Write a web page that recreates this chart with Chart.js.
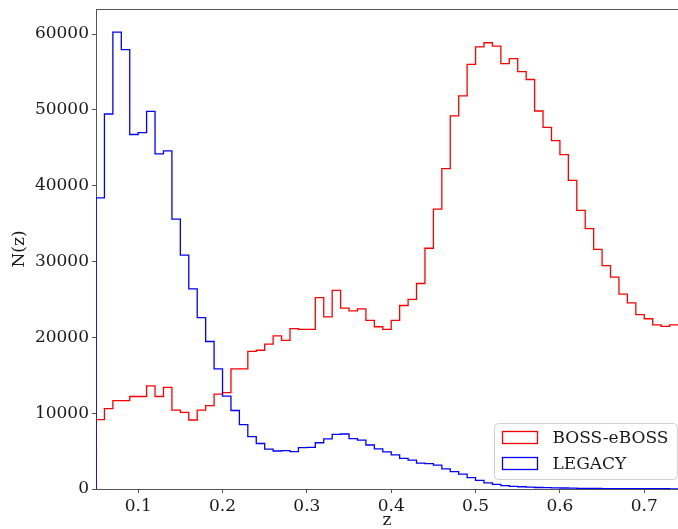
<!DOCTYPE html>
<html>
<head>
<meta charset="utf-8">
<title>N(z)</title>
<script src="https://cdn.jsdelivr.net/npm/chart.js@4/dist/chart.umd.min.js"></script>
<style>
  body { margin: 0; background: #fff; }
  canvas { display: block; }
</style>
</head>
<body>
<canvas id="nzChart" width="678" height="529"></canvas>
<script>
// histogram bins: 0.05 .. 0.74, width 0.01
const zStart = 0.05;
const binWidth = 0.01;

const bossEboss = [
  9150, 10600, 11650, 11650, 12200, 12200, 13600, 12200, 13400, 10400,
  10100, 9100, 10400, 11000, 12500, 12700, 15850, 15850, 18150, 18300,
  19100, 20200, 19600, 21150, 21050, 21050, 25250, 22700, 26200, 23850,
  23500, 23750, 22250, 21400, 21050, 22250, 24200, 25000, 27100, 31750,
  36900, 42250, 49200, 51850, 56000, 58300, 58850, 58400, 56100, 56750,
  55050, 54000, 49850, 47700, 45950, 44100, 40700, 36750, 34350, 31600,
  29450, 27950, 25700, 24550, 23000, 22450, 21650, 21450, 21650
];

const legacy = [
  38400, 49450, 60250, 57950, 46750, 47000, 49800, 44200, 44600, 35600,
  30850, 26400, 22600, 19450, 15850, 12250, 10350, 8500, 6900, 6000,
  5250, 5010, 5050, 4920, 5450, 5500, 6100, 6600, 7200, 7250,
  6650, 6450, 5800, 5300, 4900, 4500, 4050, 3800, 3400, 3350,
  3150, 2650, 2300, 1950, 1500, 1150, 800, 600, 450, 350,
  300, 240, 200, 170, 150, 130, 110, 90, 80, 70,
  60, 55, 50, 45, 40, 35, 30, 30, 25
];

const xTicks = [0.1, 0.2, 0.3, 0.4, 0.5, 0.6, 0.7];
const yTicks = [0, 10000, 20000, 30000, 40000, 50000, 60000];

const axisColor = '#555';
const textColor = '#1a1a1a';
const fontFamily = '"DejaVu Serif", serif';

// turn bin counts into points for a step outline (like histtype='step')
function stepPoints(counts) {
  const pts = [{ x: zStart, y: 0 }];
  counts.forEach((c, i) => {
    pts.push({ x: +(zStart + i * binWidth).toFixed(2), y: c });
  });
  pts.push({ x: +(zStart + counts.length * binWidth).toFixed(2), y: counts[counts.length - 1] });
  return pts;
}

// top spine
const topSpine = {
  id: 'topSpine',
  afterDraw(chart) {
    const ctx = chart.ctx;
    const area = chart.chartArea;
    ctx.save();
    ctx.strokeStyle = axisColor;
    ctx.lineWidth = 1;
    ctx.beginPath();
    ctx.moveTo(area.left, area.top + 0.5);
    ctx.lineTo(area.right, area.top + 0.5);
    ctx.stroke();
    ctx.restore();
  }
};

// legend in a rounded frame, lower right of the plot
const boxLegend = {
  id: 'boxLegend',
  afterDraw(chart) {
    const ctx = chart.ctx;
    const area = chart.chartArea;
    const sets = chart.data.datasets;
    ctx.save();
    ctx.font = '17px ' + fontFamily;
    const textW = Math.max(...sets.map(d => ctx.measureText(d.label).width));
    const w = 8 + 35 + 15 + textW + 9;
    const h = 56;
    const x = Math.round(area.right - 1 - w) + 0.5;
    const y = Math.round(area.bottom - 10 - h) + 0.5;
    const r = 4;

    ctx.beginPath();
    ctx.moveTo(x + r, y);
    ctx.lineTo(x + w - r, y);
    ctx.arcTo(x + w, y, x + w, y + r, r);
    ctx.lineTo(x + w, y + h - r);
    ctx.arcTo(x + w, y + h, x + w - r, y + h, r);
    ctx.lineTo(x + r, y + h);
    ctx.arcTo(x, y + h, x, y + h - r, r);
    ctx.lineTo(x, y + r);
    ctx.arcTo(x, y, x + r, y, r);
    ctx.closePath();
    ctx.fillStyle = 'rgba(255,255,255,0.8)';
    ctx.fill();
    ctx.strokeStyle = '#d0d0d0';
    ctx.lineWidth = 1;
    ctx.stroke();

    sets.forEach((d, i) => {
      const rowY = y + 14 + i * 26;
      ctx.strokeStyle = d.borderColor;
      ctx.lineWidth = 1.3;
      ctx.strokeRect(x + 8, rowY - 6, 35, 12);
      ctx.fillStyle = textColor;
      ctx.textBaseline = 'middle';
      ctx.textAlign = 'left';
      ctx.fillText(d.label, x + 8 + 35 + 15, rowY + 1);
    });
    ctx.restore();
  }
};

Chart.defaults.font.family = fontFamily;
Chart.defaults.color = textColor;

const ctx = document.getElementById('nzChart').getContext('2d');
new Chart(ctx, {
  type: 'line',
  data: {
    datasets: [
      {
        label: 'BOSS-eBOSS',
        data: stepPoints(bossEboss),
        borderColor: '#ff0000',
        borderWidth: 1.3,
        stepped: 'before',
        pointRadius: 0,
        fill: false,
        order: 1
      },
      {
        label: 'LEGACY',
        data: stepPoints(legacy),
        borderColor: '#0000ff',
        borderWidth: 1.3,
        stepped: 'before',
        pointRadius: 0,
        fill: false,
        order: 0
      }
    ]
  },
  options: {
    responsive: false,
    animation: false,
    layout: { padding: { top: 9, right: 0, left: 0, bottom: 0 } },
    plugins: {
      legend: { display: false },
      tooltip: { enabled: false }
    },
    scales: {
      x: {
        type: 'linear',
        min: 0.05,
        max: 0.74,
        afterBuildTicks: s => { s.ticks = xTicks.map(v => ({ value: v })); },
        afterFit: s => { s.height = 40; s.paddingLeft = 0; s.paddingRight = 0; },
        ticks: {
          font: { size: 17 },
          color: textColor,
          padding: 3,
          maxRotation: 0,
          callback: v => v.toFixed(1)
        },
        grid: { drawOnChartArea: false, drawTicks: true, tickLength: 4, color: axisColor },
        border: { color: axisColor, width: 1 },
        title: {
          display: true,
          text: 'z',
          font: { size: 17, lineHeight: 1 },
          color: textColor,
          padding: { top: 0, bottom: 0 }
        }
      },
      y: {
        min: 0,
        max: 63300,
        afterBuildTicks: s => { s.ticks = yTicks.map(v => ({ value: v })); },
        afterFit: s => { s.width = 96; s.paddingTop = 0; s.paddingBottom = 0; },
        ticks: {
          font: { size: 17 },
          color: textColor,
          padding: 3,
          callback: v => String(v)
        },
        grid: { drawOnChartArea: false, drawTicks: true, tickLength: 4, color: axisColor },
        border: { color: axisColor, width: 1 },
        title: {
          display: true,
          text: 'N(z)',
          font: { size: 17, lineHeight: 1 },
          color: textColor,
          padding: { top: 11, bottom: 0 }
        }
      }
    }
  },
  plugins: [topSpine, boxLegend]
});
</script>
</body>
</html>
